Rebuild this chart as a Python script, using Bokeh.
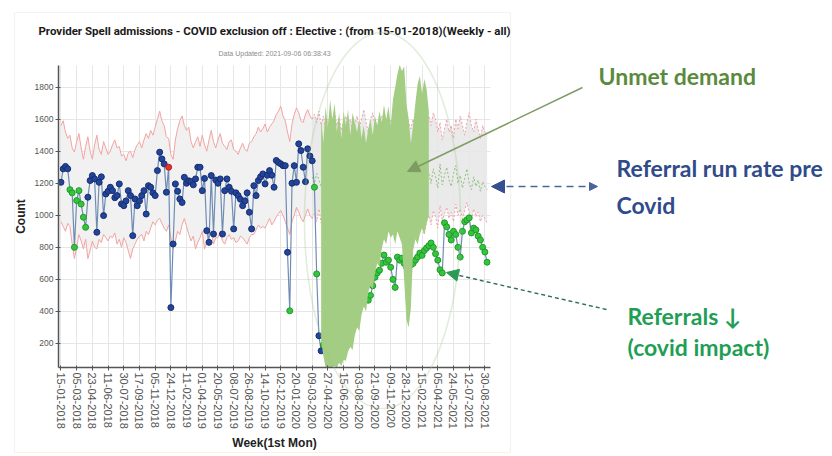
import math
import numpy as np
from bokeh.plotting import figure
from bokeh.layouts import column
from bokeh.models import (FixedTicker, Label, Arrow, NormalHead, PolyAnnotation, Title)
from bokeh.embed import file_html
from bokeh.resources import INLINE

# ---------------- data ----------------
tick_labels = ["15-01-2018", "05-03-2018", "23-04-2018", "11-06-2018", "30-07-2018", "17-09-2018",
               "05-11-2018", "24-12-2018", "11-02-2019", "01-04-2019", "20-05-2019", "08-07-2019",
               "26-08-2019", "14-10-2019", "02-12-2019", "20-01-2020", "09-03-2020", "27-04-2020",
               "15-06-2020", "03-08-2020", "21-09-2020", "09-11-2020", "28-12-2020", "15-02-2021",
               "05-04-2021", "24-05-2021", "12-07-2021", "30-08-2021"]
tick_weeks = [7 * i for i in range(len(tick_labels))]
y_ticks = [200, 400, 600, 800, 1000, 1200, 1400, 1600, 1800]

# weekly admissions, week 0 = 15-01-2018
admissions = [
    1206, 1290, 1305, 1290, 1160, 1140, 800, 1092, 1154, 1070,
    988, 925, 1113, 1217, 1248, 1227, 894, 1206, 1240, 998,
    1133, 1150, 1175, 1154, 1110, 1123, 1196, 1071, 1060, 1090,
    1154, 1123, 873, 1102, 1060, 1090, 1123, 1154, 1008, 1185,
    1175, 1140, 1123, 1279, 1394, 1352, 1321, 1144, 1300, 424,
    821, 1196, 1150, 1102, 1080, 1237, 1200, 1215, 1210, 1190,
    1227, 1300, 1300, 1154, 1230, 904, 831, 1248, 883, 1220,
    1200, 1227, 883, 1154, 1227, 1175, 1150, 915, 1140, 1123,
    1100, 1060, 1090, 1140, 1019, 915, 1185, 1123, 1217, 1240,
    1258, 1196, 1250, 1279, 1250, 1175, 1342, 1330, 1321, 1310,
    1310, 769, 404, 1200, 1310, 1206, 1446, 1404, 1300, 1210,
    1415, 1370, 1340, 1175, 634, 248, 154, 190, 230, 280,
    320, 300, 360, 390, 370, 420, 440, 410, 470, 450,
    490, 510, 470, 520, 531, 590, 563, 470, 500, 560,
    613, 640, 657, 700, 752, 707, 720, 676, 600, 550,
    739, 720, 733, 700, 680, 650, 690, 700, 720, 740,
    764, 750, 780, 796, 810, 827, 800, 760, 720, 660,
    640, 953, 928, 880, 846, 900, 880, 800, 739, 900,
    960, 972, 984, 890, 920, 909, 870, 846, 800, 771,
    707]
green_weeks = list(range(4, 12)) + [102, 113, 114] + list(range(117, 191))
red_weeks = [48]

# control limits before covid (weeks 0..112)
upper_pre = [
    1560, 1590, 1520, 1480, 1500, 1420, 1395, 1460, 1510, 1420,
    1350, 1430, 1490, 1400, 1350, 1440, 1500, 1410, 1380, 1460,
    1420, 1380, 1400, 1440, 1470, 1420, 1430, 1370, 1380, 1340,
    1390, 1400, 1360, 1410, 1440, 1460, 1420, 1470, 1510, 1480,
    1530, 1500, 1550, 1600, 1650, 1590, 1560, 1490, 1480, 1380,
    1350, 1470, 1540, 1590, 1620, 1560, 1530, 1550, 1460, 1420,
    1460, 1490, 1430, 1500, 1440, 1400, 1470, 1530, 1460, 1420,
    1470, 1510, 1450, 1430, 1410, 1460, 1470, 1410, 1400, 1380,
    1420, 1450, 1410, 1400, 1450, 1460, 1490, 1510, 1550, 1520,
    1540, 1570, 1520, 1550, 1570, 1590, 1630, 1650, 1680, 1620,
    1590, 1520, 1460, 1570, 1630, 1670, 1640, 1590, 1580, 1630,
    1660, 1620, 1600]
lower_pre = [
    960, 930, 900, 950, 930, 820, 730, 800, 880, 840,
    790, 850, 730, 780, 840, 800, 790, 850, 830, 880,
    860, 840, 870, 860, 890, 820, 850, 800, 860, 830,
    780, 730, 790, 820, 850, 870, 880, 840, 900, 880,
    920, 960, 940, 970, 980, 950, 920, 900, 940, 860,
    790, 840, 900, 880, 940, 980, 930, 880, 840, 870,
    790, 830, 860, 900, 790, 830, 880, 900, 820, 860,
    860, 900, 840, 820, 860, 880, 850, 860, 830, 840,
    870, 860, 840, 820, 860, 880, 880, 910, 940, 920,
    930, 920, 950, 980, 940, 960, 990, 1010, 1030, 1000,
    960, 920, 880, 960, 1000, 1050, 1020, 980, 960, 1000,
    1040, 1000, 980]

# projected limits and pre-covid referral run rate (weeks 112..190)
upper_proj = [
    1600, 1630, 1580, 1650, 1560, 1620, 1540, 1600, 1520, 1590,
    1640, 1560, 1610, 1530, 1580, 1620, 1550, 1600, 1500, 1570,
    1620, 1540, 1600, 1660, 1580, 1520, 1600, 1640, 1560, 1500,
    1580, 1620, 1540, 1480, 1560, 1600, 1520, 1580, 1640, 1600,
    1550, 1620, 1660, 1580, 1540, 1600, 1520, 1580, 1630, 1560,
    1500, 1580, 1620, 1560, 1640, 1600, 1520, 1580, 1470, 1540,
    1600, 1520, 1560, 1480, 1600, 1540, 1620, 1560, 1500, 1580,
    1640, 1560, 1520, 1600, 1540, 1480, 1560, 1520, 1500]
run_rate = [
    1240, 1200, 1260, 1220, 1180, 1250, 1210, 1270, 1190, 1230,
    1280, 1200, 1240, 1170, 1220, 1260, 1190, 1230, 1160, 1210,
    1250, 1180, 1230, 1290, 1210, 1160, 1230, 1270, 1200, 1150,
    1210, 1250, 1180, 1140, 1200, 1240, 1170, 1220, 1280, 1240,
    1190, 1250, 1300, 1220, 1180, 1240, 1160, 1220, 1270, 1200,
    1150, 1220, 1260, 1200, 1290, 1240, 1170, 1320, 1190, 1250,
    1300, 1220, 1180, 1260, 1310, 1200, 1250, 1170, 1230, 1290,
    1200, 1160, 1240, 1180, 1220, 1150, 1210, 1180, 1160]
lower_proj = [
    980, 1010, 960, 1040, 950, 1000, 930, 990, 910, 970,
    1020, 940, 990, 920, 960, 1000, 930, 980, 890, 950,
    1000, 920, 980, 1040, 960, 900, 980, 1020, 940, 880,
    960, 1000, 920, 870, 940, 980, 900, 960, 1020, 980,
    930, 990, 1040, 960, 920, 980, 900, 960, 1010, 940,
    880, 960, 1000, 940, 1030, 990, 920, 1060, 960, 1010,
    1050, 980, 1020, 960, 1070, 1000, 1040, 980, 1030, 1080,
    1010, 970, 1040, 990, 1020, 960, 1000, 980, 950]

# unmet demand envelope (weeks 116..164)
unmet_upper = [
    1600, 1450, 1680, 1550, 1720, 1600, 1700, 1520, 1640, 1480,
    1650, 1560, 1660, 1500, 1640, 1580, 1520, 1600, 1480, 1560,
    1450, 1540, 1600, 1500, 1620, 1560, 1650, 1580, 1690, 1600,
    1680, 1560, 1720, 1800, 1880, 1940, 1900, 1930, 1700, 1600,
    1450, 1560, 1700, 1820, 1870, 1760, 1850, 1790, 1650]
unmet_lower = [
    220, 120, 50, 50, 50, 50, 60, 50, 80, 60,
    100, 90, 150, 180, 160, 250, 300, 280, 380, 430,
    400, 520, 560, 540, 640, 700, 680, 790, 850, 820,
    900, 860, 880, 820, 900, 860, 820, 600, 350, 300,
    420, 780, 850, 820, 880, 920, 880, 950, 1000]

weeks = list(range(len(admissions)))
pre_weeks = list(range(len(upper_pre)))
proj_weeks = list(range(112, 112 + len(upper_proj)))
unmet_weeks = list(range(116, 116 + len(unmet_upper)))

# ---------------- chart figure ----------------
W, H = 832, 456
BL, BR, BT, BB = 58, 342, 65, 89
x0, x1 = -1.1, 191.5
y0, y1 = 50, 1935

p = figure(width=W, height=H, x_range=(x0, x1), y_range=(y0, y1),
           output_backend="svg", toolbar_location=None,
           min_border_left=BL, min_border_right=BR, min_border_top=BT, min_border_bottom=BB,
           background_fill_color="white", border_fill_color="white", outline_line_color=None)
p.frame_align = False

p.add_layout(Title(text="Data Updated: 2021-09-06 06:38:43", align="center",
                   text_font="Liberation Sans", text_font_size="7px", text_font_style="normal",
                   text_color="#8c8c8c", standoff=17), "above")
p.add_layout(Title(text="Provider Spell admissions - COVID exclusion off : Elective : (from 15-01-2018)(Weekly - all)",
                   align="center", text_font="Roboto", text_font_size="11.5px",
                   text_font_style="bold", text_color="#1a1a1a", standoff=4), "above")

p.xgrid.ticker = FixedTicker(ticks=tick_weeks)
p.ygrid.ticker = FixedTicker(ticks=y_ticks)
p.xgrid.grid_line_color = "#e6e6e6"
p.ygrid.grid_line_color = "#e6e6e6"

p.xaxis.ticker = FixedTicker(ticks=tick_weeks)
p.xaxis.major_label_overrides = {w: lab for w, lab in zip(tick_weeks, tick_labels)}
p.xaxis.major_label_orientation = -math.pi / 2
p.yaxis.ticker = FixedTicker(ticks=y_ticks)
for ax in (p.xaxis[0], p.yaxis[0]):
    ax.axis_line_color = "#555555"
    ax.axis_line_width = 1.5
    ax.major_tick_line_color = "#555555"
    ax.major_tick_in = 2
    ax.major_tick_out = 3
    ax.minor_tick_line_color = None
    ax.major_label_text_font = "Liberation Sans"
    ax.major_label_text_color = "#555555"
    ax.axis_label_text_font = "Liberation Sans"
    ax.axis_label_text_font_style = "bold"
    ax.axis_label_text_font_size = "12px"
    ax.axis_label_text_color = "#222222"
p.xaxis.major_label_text_font_size = "11px"
p.yaxis.major_label_text_font_size = "8.5px"
p.xaxis.major_label_standoff = 2
p.yaxis.major_label_standoff = 2
p.xaxis.axis_label = "Week(1st Mon)"
p.yaxis.axis_label = "Count"
p.xaxis.axis_label_standoff = 4
p.yaxis.axis_label_standoff = 4

p.varea(x=pre_weeks, y1=lower_pre, y2=upper_pre, fill_color="#f1f1f1", fill_alpha=1.0)
p.varea(x=proj_weeks, y1=lower_proj, y2=upper_proj, fill_color="#e6e6e6", fill_alpha=0.85)
p.line(pre_weeks, upper_pre, line_color="#f2a3a3", line_width=1)
p.line(pre_weeks, lower_pre, line_color="#f2a3a3", line_width=1)
p.line(proj_weeks, upper_proj, line_color="#f0a0ac", line_width=1, line_dash="2 2")
p.line(proj_weeks, lower_proj, line_color="#f0a0ac", line_width=1, line_dash="2 2")
p.line(proj_weeks, run_rate, line_color="#8fbf80", line_width=1, line_dash="2 2")

p.line(weeks, admissions, line_color="#6f8cb5", line_width=1.2)
fill_cols, line_cols = [], []
for w in weeks:
    if w in red_weeks:
        fill_cols.append("#e8322a"); line_cols.append("#b02020")
    elif w in green_weeks:
        fill_cols.append("#35c43e"); line_cols.append("#1f9a2a")
    else:
        fill_cols.append("#23449c"); line_cols.append("#172e6e")
p.scatter(weeks, admissions, marker="circle", size=6, fill_color=fill_cols, line_color=line_cols)

p.varea(x=unmet_weeks, y1=unmet_lower, y2=unmet_upper, fill_color="#a2cd82", fill_alpha=1.0)

# ---------------- annotation overlay (page pixel coordinates) ----------------
ov = figure(width=W, height=H, x_range=(0, W), y_range=(H, 0),
            output_backend="svg", toolbar_location=None, x_axis_type=None, y_axis_type=None,
            min_border=0, background_fill_color=None, border_fill_color=None, outline_line_color=None)
ov.frame_align = False
ov.grid.visible = False
ov.margin = (-H, 0, 0, 0)

ov.add_layout(PolyAnnotation(xs=[14, 510, 510, 14], ys=[12, 12, 452, 452],
                             fill_alpha=0, line_color="#d3dbcd", line_width=1.2))

t = np.linspace(0, 2 * np.pi, 160)
ov.add_layout(PolyAnnotation(xs=list(382 + 78 * np.cos(t)), ys=list(220 + 188 * np.sin(t)),
                             fill_alpha=0, line_color="#9fc48c", line_width=1.6))

ov.add_layout(Arrow(x_start=582, y_start=87, x_end=407, y_end=171,
                    line_color="#7e9c62", line_width=1.5,
                    end=NormalHead(size=12, fill_color="#7e9c62", line_color="#7e9c62")))
ov.add_layout(Arrow(x_start=597, y_start=186, x_end=491, y_end=186,
                    line_color="#4a64a0", line_width=1.5, line_dash="7 5",
                    end=NormalHead(size=13, fill_color="#34508f", line_color="#34508f"),
                    start=NormalHead(size=8, fill_color="#4a64a0", line_color="#4a64a0")))
ov.add_layout(Arrow(x_start=606, y_start=309, x_end=446, y_end=272,
                    line_color="#2d6e52", line_width=1.4, line_dash="4 3",
                    end=NormalHead(size=12, fill_color="#2a9a55", line_color="#2a9a55")))

txt = dict(text_font="Lato", text_font_style="bold", text_font_size="23px", text_baseline="middle",
           text_align="left")
ov.add_layout(Label(x=598, y=75, text="Unmet demand", text_color="#5b8a3c", **txt))
ov.add_layout(Label(x=616, y=167, text="Referral run rate pre", text_color="#2f4b8a", **txt))
ov.add_layout(Label(x=616, y=204, text="Covid", text_color="#2f4b8a", **txt))
ov.add_layout(Label(x=627, y=315, text="Referrals \u2193", text_color="#1f9e55", **txt))
ov.add_layout(Label(x=627, y=346, text="(covid impact)", text_color="#1f9e55", **txt))

layout = column(p, ov)
open("out.html", "w").write(file_html(layout, INLINE))
